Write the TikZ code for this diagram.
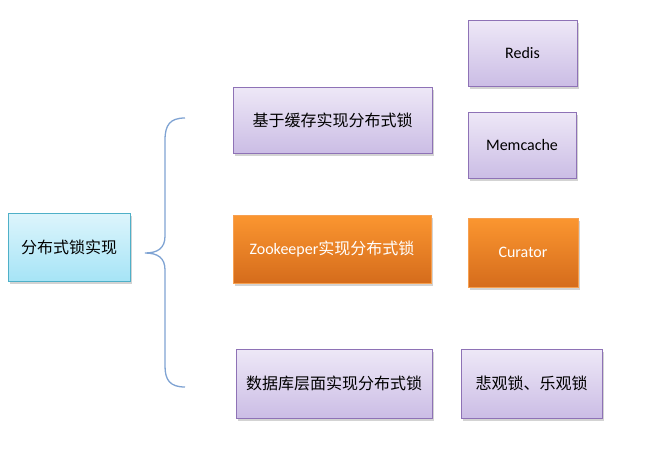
\documentclass[tikz,border=0pt]{standalone}
\usepackage{fontspec}
\setmainfont{Carlito}
\newfontfamily\cjk{Noto Sans CJK SC}
\usetikzlibrary{shadows}
\definecolor{purtop}{HTML}{EEE8F7}
\definecolor{purbot}{HTML}{CBBDE5}
\definecolor{purline}{HTML}{8E72B6}
\definecolor{blutop}{HTML}{DDF5FC}
\definecolor{blubot}{HTML}{A6E4F6}
\definecolor{bluline}{HTML}{4FB0C8}
\definecolor{orgtop}{HTML}{FB9630}
\definecolor{orgbot}{HTML}{D56C1C}
\definecolor{orgline}{HTML}{F7A050}
\definecolor{braceblue}{HTML}{7FA3D3}
\tikzset{
  box/.style={rectangle, inner sep=0pt, outer sep=0pt, line width=0.9pt,
    drop shadow={opacity=0.35, shadow xshift=1.5pt, shadow yshift=-2.5pt},
    font=\fontsize{16}{18}\selectfont, align=center},
  purbox/.style={box, draw=purline, top color=purtop, bottom color=purbot, text=black},
  blubox/.style={box, draw=bluline, top color=blutop, bottom color=blubot, text=black},
  orgbox/.style={box, draw=orgline, top color=orgtop, bottom color=orgbot, text=white},
  bracestyle/.style={draw=braceblue, line width=1.3pt}
}
\begin{document}
\begin{tikzpicture}[x=1pt,y=-1pt]
\useasboundingbox (0,0) rectangle (667,456);
\node[blubox, minimum width=122pt, minimum height=68pt] (root) at (69,247) {\cjk 分布式锁实现};
\node[purbox, minimum width=199pt, minimum height=66pt] (cache) at (332.5,120) {\cjk 基于缓存实现分布式锁};
\node[orgbox, minimum width=198pt, minimum height=68pt] (zk) at (332,249) {Zookeeper{\cjk 实现分布式锁}};
\node[purbox, minimum width=196pt, minimum height=69pt] (db) at (334,383.5) {\cjk 数据库层面实现分布式锁};
\node[purbox, minimum width=109pt, minimum height=66pt] (redis) at (522.5,53) {Redis};
\node[purbox, minimum width=108pt, minimum height=66pt] (memcache) at (522,145) {Memcache};
\node[orgbox, minimum width=110pt, minimum height=69pt] (curator) at (523,252.5) {Curator};
\node[purbox, minimum width=141pt, minimum height=69pt] (pess) at (531.5,383.5) {\cjk 悲观锁、乐观锁};
\coordinate (tip) at (145,253);
\draw[bracestyle] (185,118) .. controls (170,118) and (165,125) .. (165,140)
  -- (165,236) .. controls (165,248) and (158,253) .. (tip)
  .. controls (158,253) and (165,258) .. (165,270)
  -- (165,366) .. controls (165,380) and (170,387) .. (185,387);
\end{tikzpicture}
\end{document}
